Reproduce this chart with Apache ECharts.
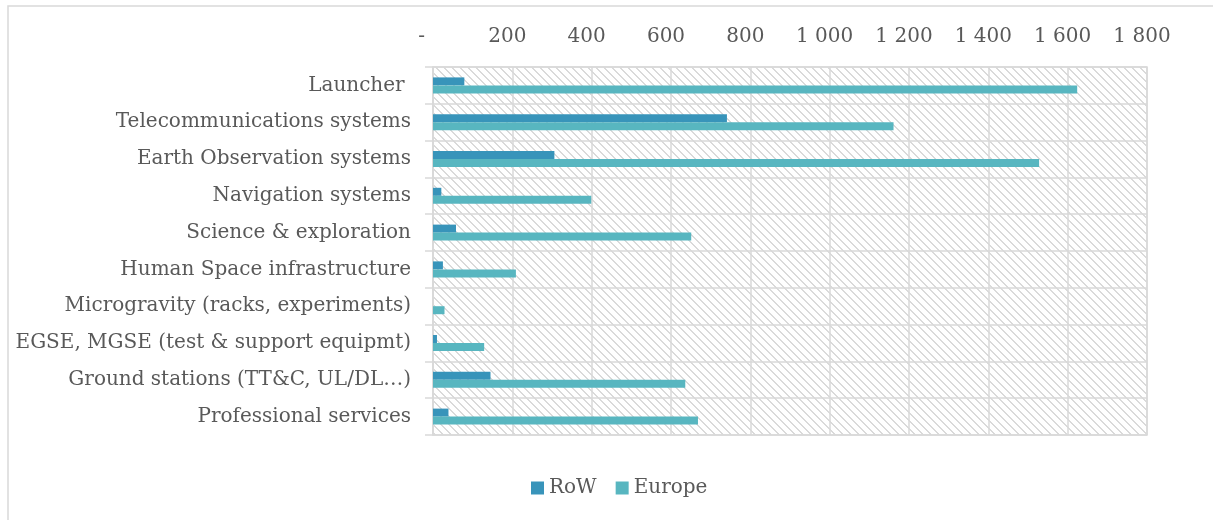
<!DOCTYPE html>
<html>
<head>
<meta charset="utf-8">
<script src="https://cdn.jsdelivr.net/npm/echarts@6/dist/echarts.min.js"></script>
<style>
  html, body { margin: 0; padding: 0; background: #ffffff; }
  #chart { width: 1213px; height: 520px; }
</style>
</head>
<body>
<div id="chart"></div>
<script>
// Space segment categories (top to bottom)
const categories = [
  'Launcher ',
  'Telecommunications systems',
  'Earth Observation systems',
  'Navigation systems',
  'Science & exploration',
  'Human Space infrastructure',
  'Microgravity (racks, experiments)',
  'EGSE, MGSE (test & support equipmt)',
  'Ground stations (TT&C, UL/DL…)',
  'Professional services'
];
const seriesNames = ['RoW', 'Europe'];
const rowValues    = [79, 741, 306, 21, 58, 25, 0, 10, 145, 39];
const europeValues = [1624, 1161, 1528, 399, 651, 209, 29, 129, 636, 668];
const axisMin = 0, axisMax = 1800, axisStep = 200;

const textColor = '#595959';
const lineColor = '#d9d9d9';
const fontFamily = '"DejaVu Serif", serif';

// Downward diagonal hatch used as plot-area fill
function hatchPattern() {
  const c = document.createElement('canvas');
  c.width = 8; c.height = 8;
  const ctx = c.getContext('2d');
  ctx.fillStyle = '#ffffff';
  ctx.fillRect(0, 0, 8, 8);
  ctx.fillStyle = '#dadada';
  for (let i = 0; i < 8; i++) {
    ctx.fillRect(i, i, 1, 1);
    ctx.fillRect((i + 1) % 8, i, 1, 1);
  }
  return { image: c, repeat: 'repeat' };
}

function fmtNumber(v) {
  if (v === 0) return '-  ';
  return String(v).replace(/\B(?=(\d{3})+(?!\d))/g, ' ');
}

const chart = echarts.init(document.getElementById('chart'), null, { renderer: 'canvas' });
chart.setOption({
  animation: false,
  backgroundColor: '#ffffff',
  textStyle: { fontFamily: fontFamily },
  graphic: [{
    type: 'rect',
    shape: { x: 8, y: 6, width: 1230, height: 540 },
    style: { fill: 'none', stroke: lineColor, lineWidth: 1.5 },
    silent: true
  }],
  grid: {
    left: 433, right: 66, top: 67, bottom: 85,
    show: true,
    backgroundColor: hatchPattern(),
    borderColor: lineColor,
    borderWidth: 1.5
  },
  legend: {
    data: seriesNames,
    left: 526, top: 473,
    itemWidth: 13, itemHeight: 13, itemGap: 19,
    icon: 'rect',
    textStyle: { color: textColor, fontSize: 20, fontFamily: fontFamily }
  },
  xAxis: {
    type: 'value',
    position: 'top',
    min: axisMin, max: axisMax, interval: axisStep,
    axisLine: { show: false },
    axisTick: { show: false },
    splitLine: { show: true, lineStyle: { color: lineColor, width: 1.5 } },
    axisLabel: {
      color: textColor, fontSize: 20, fontFamily: fontFamily,
      margin: 20,
      padding: [0, 10, 0, 0],
      formatter: fmtNumber
    }
  },
  yAxis: {
    type: 'category',
    data: categories,
    inverse: true,
    axisLine: { show: true, lineStyle: { color: lineColor, width: 1.5 } },
    axisTick: { show: true, length: 8, lineStyle: { color: lineColor, width: 1.5 } },
    splitLine: { show: true, lineStyle: { color: lineColor, width: 1.5 } },
    axisLabel: { color: textColor, fontSize: 20, fontFamily: fontFamily, margin: 22 }
  },
  series: [
    {
      name: seriesNames[0], type: 'bar', data: rowValues,
      barWidth: 8, barGap: '0%',
      itemStyle: { color: '#3894ba' }
    },
    {
      name: seriesNames[1], type: 'bar', data: europeValues,
      barWidth: 8, barGap: '0%',
      itemStyle: { color: '#58b6c0' }
    }
  ]
});
</script>
</body>
</html>
